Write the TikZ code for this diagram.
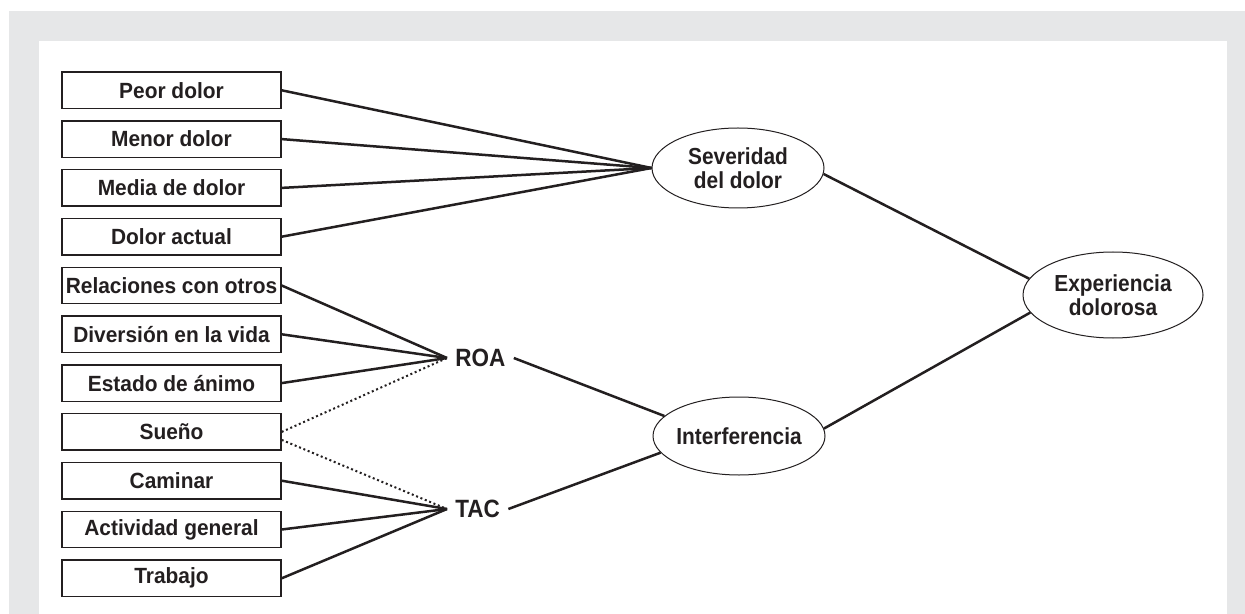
\documentclass[tikz,border=0pt]{standalone}
\usepackage{fontspec}
\setmainfont{Liberation Sans}
\newfontfamily\narrowfont{Liberation Sans}[FakeStretch=0.9]
\newfontfamily\boxfont{Liberation Sans}[FakeStretch=0.95]
\usepackage{tikz}
\usetikzlibrary{shapes.geometric}
\definecolor{panelgray}{HTML}{E6E7E8}
\definecolor{ink}{HTML}{231F20}

\begin{document}
\begin{tikzpicture}
[x=0.5pt,y=-0.5pt,font=\boxfont\fontsize{11}{12.2}\selectfont\bfseries,text=ink,
item/.style={draw=ink,line width=0.7pt,minimum width=109.5pt,
minimum height=18.25pt,inner sep=0pt},
factor/.style={ellipse,draw=ink,line width=0.5pt,inner xsep=-2pt,
inner ysep=0pt,align=center,font=\narrowfont\fontsize{11.6}{12.15}\selectfont\bfseries},
group/.style={anchor=west,inner sep=4pt,font=\narrowfont\fontsize{12.5}{14}\selectfont\bfseries},
link/.style={ink,line width=1.25pt},
weak/.style={ink,line width=1pt,dash pattern=on 1pt off 1.35pt}]
\useasboundingbox (0,0) rectangle (1245,614);
\fill[panelgray] (9,11) rectangle (1245,614);
\fill[white] (39,41) rectangle (1227,614);

\node (b1) at (171.5,90.3) [item] {Peor dolor};
\node (b2) at (171.5,139.1) [item] {Menor dolor};
\node (b3) at (171.5,187.9) [item] {Media de dolor};
\node (b4) at (171.5,236.7) [item] {Dolor actual};
\node (b5) at (171.5,285.5) [item] {Relaciones con otros};
\node (b6) at (171.5,334.3) [item] {Diversión en la vida};
\node (b7) at (171.5,383.1) [item] {Estado de ánimo};
\node (b8) at (171.5,431.9) [item] {Sueño};
\node (b9) at (171.5,480.7) [item] {Caminar};
\node (b10) at (171.5,529.5) [item] {Actividad general};
\node (b11) at (171.5,578.3) [item] {Trabajo};

\node (roa) at (447,358) [group] {ROA};
\node (tac) at (447,509) [group] {TAC};

\node (sev) at (738,168) [factor,minimum width=86pt,minimum height=40pt] {Severidad\\del dolor};
\node (int) at (739,436) [factor,minimum width=86pt,minimum height=39pt] {Interferencia};
\node (exp) at (1113,295) [factor,minimum width=90pt,minimum height=43pt] {Experiencia\\dolorosa};

\draw[link] (b1.east) -- (sev.west);
\draw[link] (b2.east) -- (sev.west);
\draw[link] (b3.east) -- (sev.west);
\draw[link] (b4.east) -- (sev.west);

\draw[link] (b5.east) -- (roa.west);
\draw[link] (b6.east) -- (roa.west);
\draw[link] (b7.east) -- (roa.west);
\draw[weak] (b8.east) -- (roa.west);
\draw[weak] ([yshift=-4pt]b8.east) -- (tac.west);
\draw[link] (b9.east) -- (tac.west);
\draw[link] (b10.east) -- (tac.west);
\draw[link] (b11.east) -- (tac.west);

\draw[link] (roa.east) -- (int.165);
\draw[link] (tac.east) -- (int.192);
\draw[link] (sev.-4) -- (exp.169);
\draw[link] (int.5) -- (exp.192.5);

\end{tikzpicture}
\end{document}
